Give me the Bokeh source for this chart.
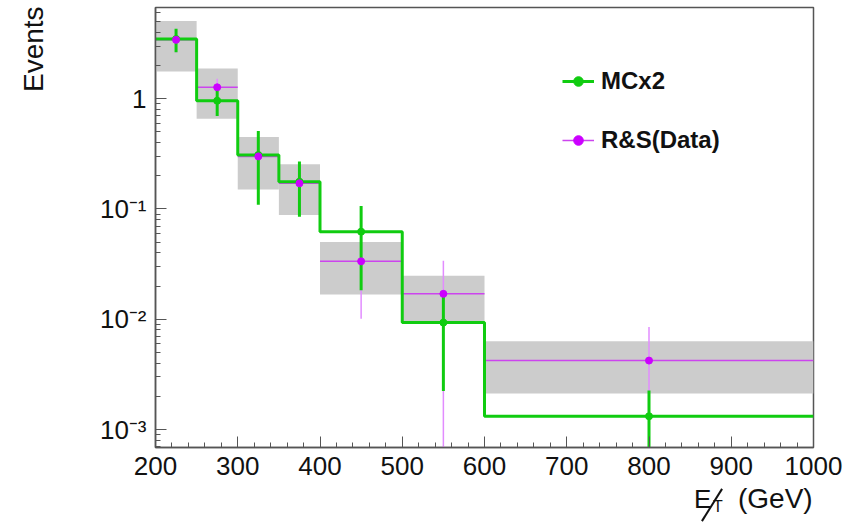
from bokeh.plotting import figure
from bokeh.layouts import column, row
from bokeh.models import (ColumnDataSource, FixedTicker, Legend, LegendItem,
                          Range1d, Div)
from bokeh.embed import file_html
from bokeh.resources import INLINE

# Missing-ET spectrum: binned MC prediction vs. rebalance & smear estimate
bin_edges = [200, 250, 300, 350, 400, 500, 600, 1000]

mc_values = [3.48, 0.959, 0.309, 0.177, 0.0623, 0.00933, 0.00132]
mc_errors = [0.84, 0.26, 0.20, 0.092, 0.044, 0.0071, 0.00094]

data_values = [3.42, 1.27, 0.30, 0.171, 0.0335, 0.0170, 0.00422]
data_stat = [0.80, 0.25, 0.15, 0.080, 0.0234, 0.0170, 0.0043]
data_syst = [1.65, 0.61, 0.15, 0.083, 0.0167, 0.0078, 0.0021]

x_ticks = list(range(200, 1001, 100))
x_minor = list(range(200, 1001, 20))
y_ticks = [1e-3, 1e-2, 1e-1, 1]
y_tick_labels = ["10\u207b\u00b3", "10\u207b\u00b2", "10\u207b\u00b9", "1"]

W, H = 856, 522
W_TITLE = 50                 # strip holding the vertical y title
H_PLOT = 487
W_PLOT = W - W_TITLE
H_XTITLE = H - H_PLOT
GREEN = "#10cc10"
VIOLET = "#cc00ff"
VIOLET_LINE = "#cc44ee"
VIOLET_ERR = "#e28cff"
GREY_BAND = "#cccccc"
FRAME = "#555555"
INK = "#111111"
FONT = "Liberation Sans"

lo = bin_edges[:-1]
hi = bin_edges[1:]
centers = [(a + b) / 2 for a, b in zip(lo, hi)]

def floor_pos(v):
    return v if v > 0 else 1e-6

band = ColumnDataSource(dict(
    left=lo, right=hi,
    bottom=[floor_pos(v - s) for v, s in zip(data_values, data_syst)],
    top=[v + s for v, s in zip(data_values, data_syst)],
))
data_src = ColumnDataSource(dict(
    x=centers, y=data_values, lo=lo, hi=hi,
    ylo=[floor_pos(v - e) for v, e in zip(data_values, data_stat)],
    yhi=[v + e for v, e in zip(data_values, data_stat)],
))
mc_src = ColumnDataSource(dict(
    x=centers, y=mc_values,
    ylo=[floor_pos(v - e) for v, e in zip(mc_values, mc_errors)],
    yhi=[v + e for v, e in zip(mc_values, mc_errors)],
))

p = figure(width=W_PLOT, height=H_PLOT, y_axis_type="log",
           x_range=Range1d(200, 1000), y_range=Range1d(6.87e-4, 6.72),
           output_backend="svg", toolbar_location=None,
           min_border_left=155 - W_TITLE, min_border_right=43,
           min_border_top=7, min_border_bottom=40)
p.background_fill_color = "white"
p.border_fill_color = "white"
p.outline_line_color = FRAME
p.outline_line_width = 1.5
p.xgrid.visible = False
p.ygrid.visible = False

# systematic band
p.quad(left="left", right="right", bottom="bottom", top="top", source=band,
       fill_color=GREY_BAND, line_color=None)

# data: bin-width bars and statistical errors
data_h = p.segment(x0="lo", x1="hi", y0="y", y1="y", source=data_src,
                   line_color=VIOLET_LINE, line_width=1.5)
p.segment(x0="x", x1="x", y0="ylo", y1="yhi", source=data_src,
          line_color=VIOLET_ERR, line_width=1.5)

# MC histogram as a step line
step_x = bin_edges
step_y = mc_values + [mc_values[-1]]
p.step(x=step_x, y=step_y, mode="after", line_color=GREEN, line_width=3)
mc_err = p.segment(x0="x", x1="x", y0="ylo", y1="yhi", source=mc_src,
                   line_color=GREEN, line_width=3)
mc_pts = p.scatter(x="x", y="y", source=mc_src, size=7, marker="circle",
                   fill_color=GREEN, line_color=GREEN)
data_pts = p.scatter(x="x", y="y", source=data_src, size=7, marker="circle",
                     fill_color=VIOLET, line_color=VIOLET)

# axes, ROOT-like inward ticks
for ax in (p.xaxis[0], p.yaxis[0]):
    ax.axis_line_color = FRAME
    ax.axis_line_width = 1.5
    ax.major_tick_line_color = FRAME
    ax.minor_tick_line_color = FRAME
    ax.major_tick_in = 11
    ax.major_tick_out = 0
    ax.minor_tick_in = 5
    ax.minor_tick_out = 0
    ax.major_label_text_font = FONT
    ax.major_label_text_font_size = "26px"
    ax.major_label_text_color = INK
    ax.major_label_standoff = 9

p.xaxis.ticker = FixedTicker(ticks=x_ticks, minor_ticks=x_minor)
y_minor = [k * 10.0 ** n for n in range(-4, 1) for k in range(2, 10)]
p.yaxis.ticker = FixedTicker(ticks=y_ticks, minor_ticks=y_minor)
p.yaxis.major_label_overrides = {t: s for t, s in zip(y_ticks, y_tick_labels)}

legend = Legend(items=[LegendItem(label="MCx2", renderers=[mc_err, mc_pts]),
                       LegendItem(label="R&S(Data)", renderers=[data_h, data_pts])],
                location=(407, 293), orientation="vertical",
                glyph_width=32, glyph_height=24, label_height=24,
                label_standoff=7, spacing=31, padding=0, margin=0,
                border_line_color=None, background_fill_alpha=0,
                label_text_font=FONT, label_text_font_size="24px",
                label_text_font_style="bold", label_text_color=INK,
                label_text_baseline="middle")
p.add_layout(legend)

# y title, reading upwards, top-aligned
y_title = (
    f'<div style="position:relative;width:{W_TITLE}px;height:{H}px;'
    f'font-family:\'{FONT}\';color:{INK};line-height:1;">'
    '<span style="position:absolute;left:20px;top:92px;font-size:28px;'
    'white-space:nowrap;transform-origin:0 0;transform:rotate(-90deg);">Events</span>'
    '</div>'
)
y_title_div = Div(text=y_title, width=W_TITLE, height=H, margin=0)

# x title: slashed E with subscript T, then the unit
dx = -W_TITLE
x_title = (
    f'<div style="position:relative;width:{W_PLOT}px;height:{H_XTITLE}px;'
    f'font-family:\'{FONT}\';color:{INK};line-height:1;">'
    f'<span style="position:absolute;left:{694 + dx}px;top:-1px;font-size:26px;">E</span>'
    f'<span style="position:absolute;left:{711 + dx}px;top:-1px;width:2px;height:38px;'
    f'background:{INK};transform:rotate(32deg);"></span>'
    f'<span style="position:absolute;left:{713 + dx}px;top:12px;font-size:16px;">T</span>'
    f'<span style="position:absolute;left:{738 + dx}px;top:-2px;font-size:28px;">(GeV)</span>'
    '</div>'
)
x_title_div = Div(text=x_title, width=W_PLOT, height=H_XTITLE, margin=0)

layout = row(y_title_div, column(p, x_title_div, spacing=0), spacing=0)
open("out.html", "w").write(file_html(layout, INLINE))
